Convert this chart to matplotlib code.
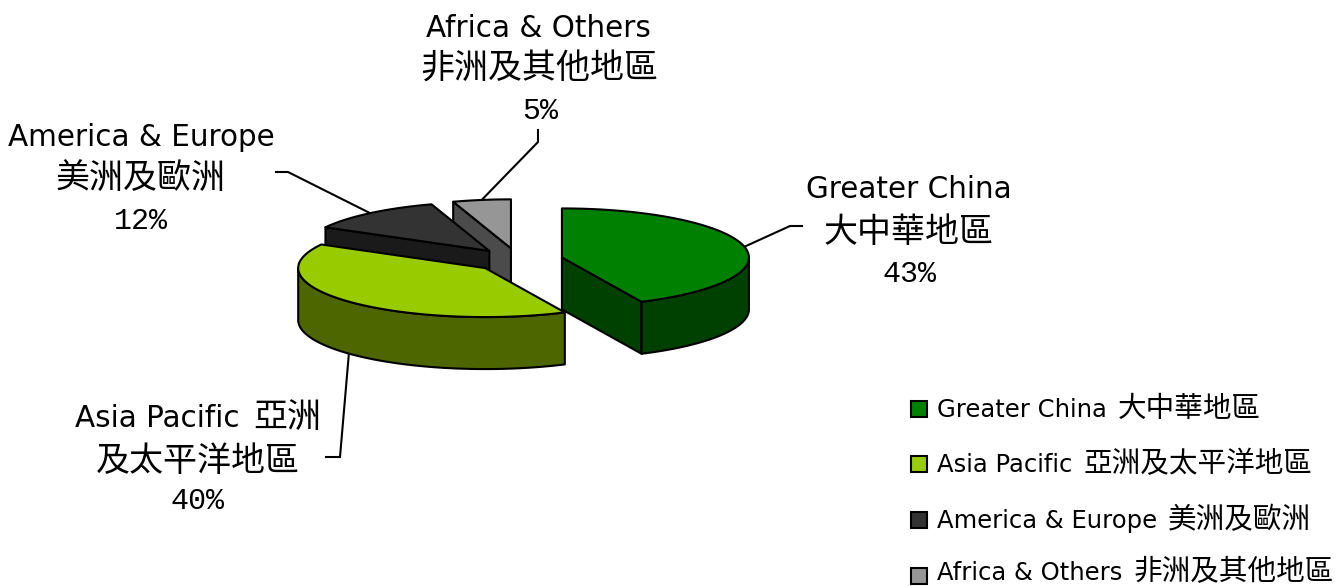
import numpy as np
import matplotlib
matplotlib.use("Agg")
import matplotlib.pyplot as plt
from matplotlib.patches import Polygon, Rectangle

# ---- data
names_en = ["Greater China", "Asia Pacific", "America & Europe", "Africa & Others"]
names_zh = ["大中華地區", "亞洲及太平洋地區", "美洲及歐洲", "非洲及其他地區"]
values = [43, 40, 12, 5]
pct_labels = ["43%", "40%", "12%", "5%"]

# ---- style / layout
top_colors = ["#008000", "#99CC00", "#333333", "#969696"]
side_colors = ["#004000", "#4D6600", "#1A1A1A", "#4B4B4B"]
W, H = 1337, 587
CX, CY, RX, RY, DEPTH, EXPLODE = 518, 260, 187, 49, 52, 45
LW = 1.5
LATIN = "DejaVu Sans"
CJK = "Noto Sans CJK TC"
MONO = "Liberation Mono"

fig = plt.figure(figsize=(W / 100, H / 100), dpi=100)
ax = fig.add_axes([0, 0, 1, 1])
ax.set_xlim(0, W)
ax.set_ylim(H, 0)
ax.axis("off")
renderer = fig.canvas.get_renderer()


def px(p):
    return p * 0.72


def runs_of(s):
    """split a string into latin and CJK runs"""
    out = []
    for part in s.split(" "):
        if not part:
            continue
        kind = ord(part[0]) > 0x2E80
        if out and out[-1][1] == kind:
            out[-1][0] += " " + part
        else:
            out.append([part, kind])
    return out


def draw_line(x, y, s, cjk_px, latin_px, align="center", gap_em=0.45):
    items = []
    total = 0
    gap = gap_em * latin_px
    for txt, is_cjk in runs_of(s):
        t = ax.text(0, y, txt, family=CJK if is_cjk else LATIN,
                    fontsize=px(cjk_px if is_cjk else latin_px),
                    ha="left", va="baseline", color="black")
        w = t.get_window_extent(renderer).width
        if is_cjk:
            w = len(txt) * cjk_px
        items.append((t, w))
        total += w
    total += gap * (len(items) - 1)
    cur = x - total / 2 if align == "center" else x
    for t, w in items:
        t.set_x(cur)
        cur += w + gap


def ell(c, a):
    a = np.radians(a)
    return np.column_stack([c[0] + RX * np.sin(a), c[1] - RY * np.cos(a)])


angles = np.concatenate([[0], np.cumsum(values) / np.sum(values) * 360])
centers, mids = [], []
for i in range(len(values)):
    m = (angles[i] + angles[i + 1]) / 2
    mids.append(m)
    r = np.radians(m)
    centers.append((CX + EXPLODE * np.sin(r), CY - EXPLODE * RY / RX * np.cos(r)))

down = np.array([0, DEPTH])
style = dict(edgecolor="black", linewidth=LW, joinstyle="round")
z = 2
# back slices first, front slices last
for i in [3, 2, 0, 1]:
    a0, a1, c = angles[i], angles[i + 1], centers[i]
    apex = np.array(c)
    # visible radial cut walls
    for a, vis in ((a0, 180 < a0 < 360), (a1, 0 < a1 < 180)):
        if vis:
            p = ell(c, np.array([a]))[0]
            ax.add_patch(Polygon([apex, p, p + down, apex + down],
                                 facecolor=side_colors[i], zorder=z, **style))
            z += 1
    # outer rim, front half only
    lo, hi = max(a0, 90), min(a1, 270)
    if lo < hi:
        arc = ell(c, np.linspace(lo, hi, 80))
        ax.add_patch(Polygon(np.vstack([arc, (arc + down)[::-1]]),
                             facecolor=side_colors[i], zorder=z, **style))
        z += 1
    arc = ell(c, np.linspace(a0, a1, 120))
    ax.add_patch(Polygon(np.vstack([apex, arc]), facecolor=top_colors[i], zorder=z, **style))
    z += 1

# ---- leader lines: knee points per slice, anchored on the pie edge
knees = [[(790, 226), (802, 226)],
         [(340, 457), (326, 457)],
         [(288, 172), (276, 172)],
         [(538, 142), (538, 130)]]
for i, k in enumerate(knees):
    p = ell(centers[i], np.array([mids[i]]))[0]
    if 90 < mids[i] < 270:
        p = p + down
    pts = np.vstack([p, k])
    ax.plot(pts[:, 0], pts[:, 1], color="black", lw=LW, zorder=1, solid_joinstyle="miter")

# ---- data labels
label_lines = [
    [(909, 198, names_en[0]), (909, 242, names_zh[0]), (909, 282, pct_labels[0])],
    [(198, 427, names_en[1] + " " + names_zh[1][:2]), (198, 471, names_zh[1][2:]), (198, 509, pct_labels[1])],
    [(141, 146, names_en[2]), (141, 188, names_zh[2]), (141, 229, pct_labels[2])],
    [(538, 37, names_en[3]), (539, 79, names_zh[3]), (540, 119, pct_labels[3])],
]
for lines in label_lines:
    for x, y, s in lines[:2]:
        draw_line(x, y, s, 34, 29.5)
    x, y, s = lines[2]
    ax.text(x, y, s, family=MONO, fontsize=px(30), ha="center", va="baseline", color="black")

# ---- legend
legend_square_y = [417, 472, 528, 584]
legend_text_y = [417, 472, 528, 580.5]
for i, y in enumerate(legend_square_y):
    ax.add_patch(Rectangle((910.5, y - 16.5), 16, 16, facecolor=top_colors[i],
                           edgecolor="black", linewidth=LW))
    draw_line(937, legend_text_y[i], names_en[i] + " " + names_zh[i], 28.6, 24.2, align="left")

fig.savefig("out.png", dpi=100)
